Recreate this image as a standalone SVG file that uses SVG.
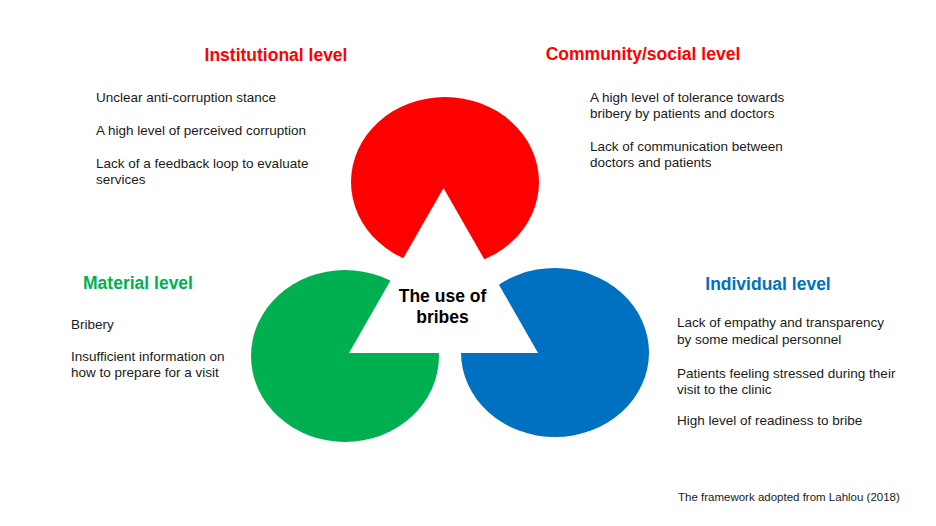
<svg xmlns="http://www.w3.org/2000/svg" width="936" height="526" viewBox="0 0 936 526">
<style>
text{font-family:"Liberation Sans",Arial,sans-serif}
.h{font-size:17.5px;font-weight:bold;text-anchor:middle}
.b{font-size:13.5px;fill:#1a1a1a}
.f{font-size:11.5px;fill:#1a1a1a}
</style>
<rect width="936" height="526" fill="#fff"/>
<g id="shapes">
<ellipse id="red" cx="445" cy="182" rx="94" ry="85" fill="#FF0000"/>
<ellipse id="green" cx="345" cy="356" rx="94" ry="86" fill="#00B050"/>
<ellipse id="blue" cx="555" cy="352.5" rx="94" ry="84.5" fill="#0070C0"/>
</g>
<g id="center">
<polygon points="443.5,188 349,353 538,353" fill="#fff"/>
<text class="h" x="442.5" y="301.5" fill="#000">The use of</text>
<text class="h" x="442.5" y="322.5" fill="#000">bribes</text>
</g>
<g id="institutional">
<text class="h" x="276" y="61" fill="#FF0000">Institutional level</text>
<text class="b" x="96" y="102">Unclear anti-corruption stance</text>
<text class="b" x="96" y="134.5">A high level of perceived corruption</text>
<text class="b" x="96" y="167.5">Lack of a feedback loop to evaluate</text>
<text class="b" x="96" y="183.5">services</text>
</g>
<g id="community">
<text class="h" x="643" y="59.5" fill="#FF0000">Community/social level</text>
<text class="b" x="590" y="102">A high level of tolerance towards</text>
<text class="b" x="590" y="117.5">bribery by patients and doctors</text>
<text class="b" x="590" y="151">Lack of communication between</text>
<text class="b" x="590" y="167">doctors and patients</text>
</g>
<g id="material">
<text class="h" x="138" y="288.5" fill="#00B050">Material level</text>
<text class="b" x="71" y="328.5">Bribery</text>
<text class="b" x="71" y="361">Insufficient information on</text>
<text class="b" x="71" y="377">how to prepare for a visit</text>
</g>
<g id="individual">
<text class="h" x="768" y="289.5" fill="#0070C0">Individual level</text>
<text class="b" x="677" y="327">Lack of empathy and transparency</text>
<text class="b" x="677" y="343.5">by some medical personnel</text>
<text class="b" x="677" y="377.5">Patients feeling stressed during their</text>
<text class="b" x="677" y="393.5">visit to the clinic</text>
<text class="b" x="677" y="425">High level of readiness to bribe</text>
</g>
<g id="footer">
<text class="f" x="678" y="500.5">The framework adopted from Lahlou (2018)</text>
</g>
</svg>
